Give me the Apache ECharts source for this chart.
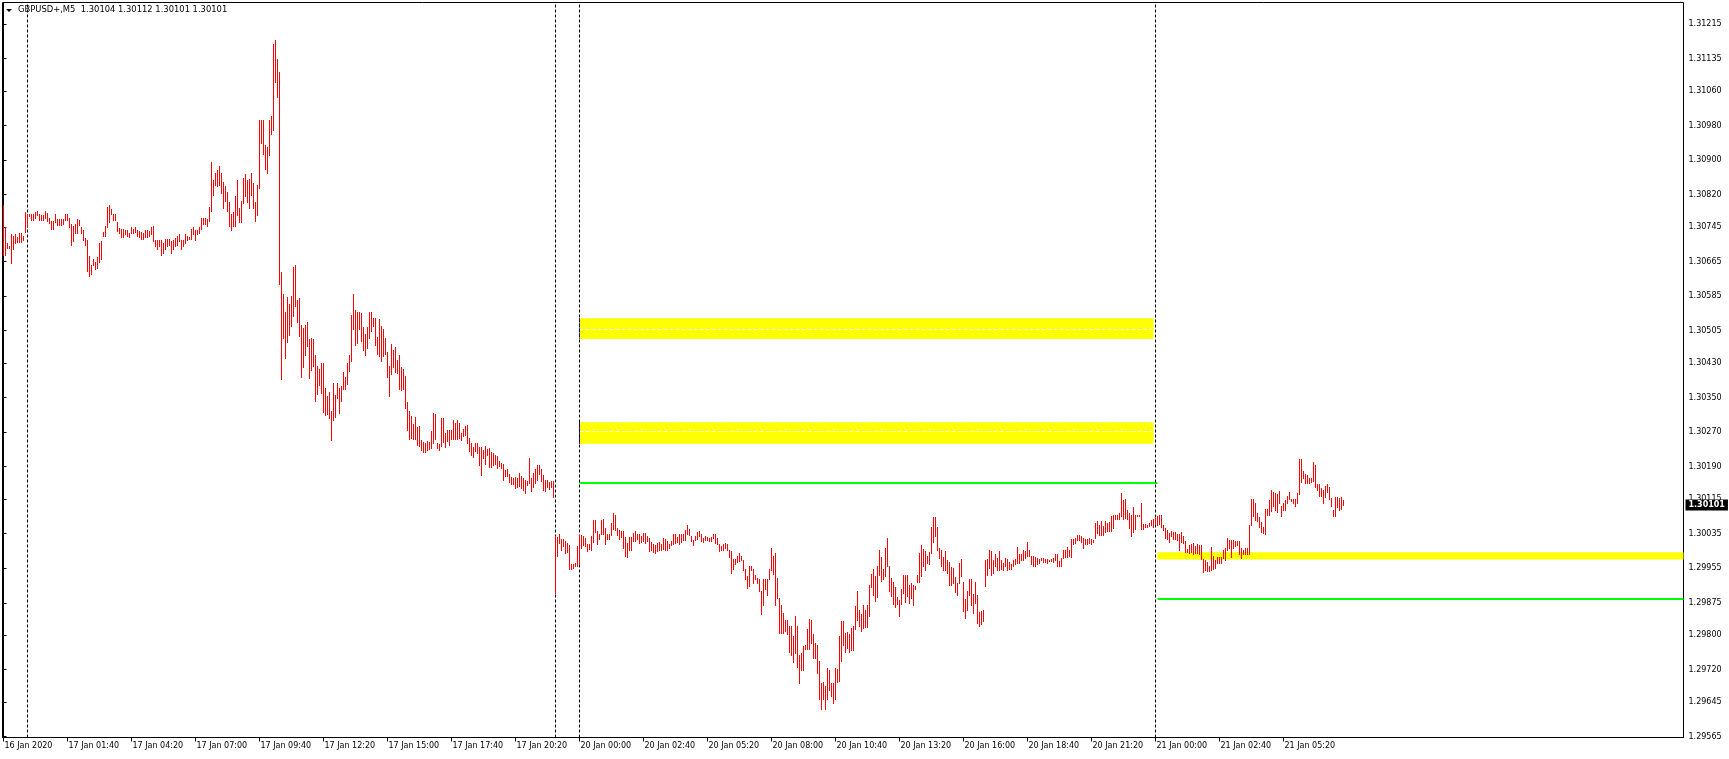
<!DOCTYPE html>
<html><head><meta charset="utf-8">
<script src="https://cdn.jsdelivr.net/npm/echarts@6/dist/echarts.min.js"></script>
<style>html,body{margin:0;padding:0;background:#fff;}#chart{width:1729px;height:759px;}</style>
</head><body><div id="chart"></div>
<script>
// ---------------- data ----------------
const symbolName = 'GBPUSD+,M5';
const lastOHLC = [1.30104, 1.30112, 1.30101, 1.30101];

const xTickBars = [0,32,64,96,128,160,192,224,256,288,320,352,384,416,448,480,512,544,576,608,640];
const xTickLabels = ['16 Jan 2020','17 Jan 01:40','17 Jan 04:20','17 Jan 07:00','17 Jan 09:40','17 Jan 12:20','17 Jan 15:00','17 Jan 17:40','17 Jan 20:20','20 Jan 00:00','20 Jan 02:40','20 Jan 05:20','20 Jan 08:00','20 Jan 10:40','20 Jan 13:20','20 Jan 16:00','20 Jan 18:40','20 Jan 21:20','21 Jan 00:00','21 Jan 02:40','21 Jan 05:20'];
const yTickValues = [1.29565,1.29645,1.29720,1.29800,1.29875,1.29955,1.30035,1.30115,1.30190,1.30270,1.30350,1.30430,1.30505,1.30585,1.30665,1.30745,1.30820,1.30900,1.30980,1.31060,1.31135,1.31215];
const separatorBars = [12, 276, 288, 576];

// rectangles (zones): [fromBar, toBar], top price, bottom price
const zoneBars = [[288, 575], [288, 575], [577, 840]];
const zoneTop = [1.30534, 1.30293, 1.29992];
const zoneBottom = [1.30486, 1.30243, 1.29975];
const zoneMidBars = [288, 574];
const zoneMid = [1.30508, 1.30272];
// green horizontal levels
const greenBars = [[288, 577], [577, 840]];
const greenLevels = [1.30153, 1.29884];

// 16-17 Jan (bars 0..275)
const highA = [1.30796,1.30743,1.30706,1.30701,1.30727,1.30724,1.30727,1.30721,1.30729,1.30729,
1.30724,1.30778,1.30773,1.30775,1.30773,1.30773,1.30778,1.30782,1.30773,1.30771,
1.30771,1.30782,1.30777,1.30765,1.30757,1.30757,1.30775,1.30763,1.30763,1.30763,
1.30763,1.30775,1.30773,1.30765,1.30752,1.30747,1.30752,1.30763,1.30760,1.30744,
1.30736,1.30718,1.30713,1.30676,1.30655,1.30670,1.30662,1.30675,1.30706,1.30711,
1.30732,1.30746,1.30791,1.30794,1.30786,1.30775,1.30775,1.30755,1.30742,1.30740,
1.30740,1.30738,1.30737,1.30730,1.30744,1.30740,1.30744,1.30738,1.30734,1.30732,
1.30729,1.30737,1.30737,1.30734,1.30744,1.30747,1.30713,1.30713,1.30713,1.30713,
1.30706,1.30717,1.30717,1.30717,1.30711,1.30713,1.30719,1.30724,1.30727,1.30713,
1.30713,1.30727,1.30724,1.30721,1.30740,1.30744,1.30738,1.30737,1.30744,1.30765,
1.30765,1.30765,1.30763,1.30791,1.30894,1.30852,1.30868,1.30876,1.30886,1.30868,
1.30848,1.30840,1.30824,1.30801,1.30775,1.30778,1.30815,1.30852,1.30789,1.30805,
1.30857,1.30866,1.30852,1.30854,1.30870,1.30845,1.30802,1.30842,1.30991,1.30991,
1.30991,1.30933,1.30930,1.30991,1.31002,1.31167,1.31178,1.31132,1.31102,1.30639,
1.30588,1.30546,1.30582,1.30565,1.30585,1.30651,1.30655,1.30576,1.30579,1.30516,
1.30510,1.30518,1.30523,1.30484,1.30488,1.30484,1.30447,1.30422,1.30416,1.30428,
1.30428,1.30371,1.30352,1.30362,1.30319,1.30382,1.30355,1.30382,1.30372,1.30375,
1.30408,1.30396,1.30429,1.30447,1.30541,1.30588,1.30551,1.30548,1.30548,1.30544,
1.30513,1.30497,1.30512,1.30546,1.30548,1.30533,1.30533,1.30489,1.30531,1.30514,
1.30507,1.30487,1.30454,1.30423,1.30474,1.30460,1.30466,1.30436,1.30447,1.30420,
1.30416,1.30400,1.30338,1.30317,1.30306,1.30287,1.30305,1.30281,1.30284,1.30251,
1.30246,1.30244,1.30248,1.30246,1.30271,1.30313,1.30312,1.30244,1.30241,1.30302,
1.30301,1.30266,1.30273,1.30273,1.30273,1.30298,1.30291,1.30296,1.30289,1.30268,
1.30277,1.30283,1.30285,1.30256,1.30244,1.30234,1.30244,1.30244,1.30234,1.30234,
1.30227,1.30236,1.30231,1.30233,1.30223,1.30221,1.30217,1.30213,1.30202,1.30198,
1.30196,1.30181,1.30184,1.30173,1.30165,1.30163,1.30165,1.30163,1.30175,1.30168,
1.30162,1.30159,1.30155,1.30208,1.30163,1.30174,1.30183,1.30194,1.30194,1.30183,
1.30170,1.30157,1.30159,1.30153,1.30156,1.30155];
const lowA = [1.30678,1.30678,1.30696,1.30696,1.30660,1.30692,1.30707,1.30709,1.30709,1.30709,
1.30713,1.30732,1.30744,1.30769,1.30761,1.30760,1.30765,1.30771,1.30761,1.30760,
1.30760,1.30765,1.30757,1.30754,1.30740,1.30740,1.30755,1.30748,1.30748,1.30748,
1.30750,1.30761,1.30760,1.30744,1.30703,1.30711,1.30730,1.30730,1.30749,1.30730,
1.30713,1.30703,1.30642,1.30630,1.30634,1.30657,1.30647,1.30649,1.30662,1.30669,
1.30723,1.30723,1.30744,1.30755,1.30773,1.30760,1.30760,1.30734,1.30730,1.30721,
1.30721,1.30727,1.30724,1.30721,1.30729,1.30730,1.30732,1.30724,1.30721,1.30717,
1.30717,1.30721,1.30721,1.30723,1.30727,1.30711,1.30700,1.30692,1.30700,1.30680,
1.30683,1.30692,1.30701,1.30703,1.30684,1.30692,1.30701,1.30703,1.30711,1.30692,
1.30701,1.30706,1.30713,1.30717,1.30717,1.30727,1.30713,1.30727,1.30730,1.30740,
1.30750,1.30752,1.30746,1.30757,1.30781,1.30817,1.30842,1.30840,1.30842,1.30823,
1.30788,1.30804,1.30781,1.30746,1.30738,1.30747,1.30747,1.30771,1.30755,1.30755,
1.30800,1.30815,1.30802,1.30789,1.30817,1.30789,1.30758,1.30771,1.30834,1.30939,
1.30914,1.30879,1.30868,1.30910,1.30960,1.30968,1.31079,1.31045,1.30613,1.30391,
1.30487,1.30440,1.30477,1.30493,1.30514,1.30539,1.30562,1.30524,1.30491,1.30396,
1.30420,1.30447,1.30468,1.30394,1.30413,1.30423,1.30341,1.30357,1.30379,1.30359,
1.30315,1.30308,1.30311,1.30301,1.30251,1.30297,1.30305,1.30347,1.30314,1.30341,
1.30369,1.30369,1.30381,1.30410,1.30433,1.30508,1.30471,1.30475,1.30508,1.30479,
1.30460,1.30447,1.30464,1.30487,1.30504,1.30514,1.30470,1.30449,1.30445,1.30433,
1.30445,1.30451,1.30397,1.30352,1.30404,1.30419,1.30408,1.30405,1.30368,1.30366,
1.30370,1.30325,1.30274,1.30254,1.30256,1.30252,1.30252,1.30239,1.30238,1.30227,
1.30223,1.30222,1.30227,1.30230,1.30233,1.30244,1.30254,1.30232,1.30227,1.30237,
1.30247,1.30234,1.30248,1.30239,1.30252,1.30252,1.30254,1.30252,1.30255,1.30250,
1.30260,1.30263,1.30244,1.30226,1.30216,1.30211,1.30226,1.30220,1.30193,1.30169,
1.30209,1.30196,1.30216,1.30188,1.30188,1.30193,1.30196,1.30187,1.30190,1.30186,
1.30159,1.30167,1.30167,1.30154,1.30149,1.30150,1.30139,1.30141,1.30144,1.30139,
1.30136,1.30128,1.30146,1.30151,1.30132,1.30142,1.30151,1.30159,1.30172,1.30156,
1.30136,1.30132,1.30142,1.30138,1.30142,1.30119];

// 19-20 Jan (bars 276..575)
const highB = [1.30028,1.30027,1.30032,1.30021,1.30021,1.30016,1.30013,1.30007,1.29963,1.29963,
1.29966,1.30005,1.30030,1.30030,1.30028,1.30024,1.30010,1.30010,1.30028,1.30065,
1.30065,1.30040,1.30032,1.30065,1.30067,1.30048,1.30034,1.30032,1.30058,1.30082,
1.30076,1.30048,1.30042,1.30039,1.30039,1.30027,1.30013,1.30026,1.30027,1.30036,
1.30041,1.30034,1.30033,1.30028,1.30036,1.30036,1.30028,1.30024,1.30014,1.30010,
1.30007,1.30013,1.30015,1.30009,1.30024,1.30022,1.30017,1.30011,1.30017,1.30032,
1.30034,1.30027,1.30034,1.30034,1.30032,1.30042,1.30053,1.30044,1.30028,1.30020,
1.30028,1.30037,1.30040,1.30032,1.30024,1.30028,1.30027,1.30024,1.30026,1.30034,
1.30034,1.30024,1.30011,1.30005,1.30009,1.30013,1.30009,1.29996,1.29993,1.29976,
1.29976,1.29982,1.29988,1.29982,1.29974,1.29951,1.29936,1.29960,1.29960,1.29951,
1.29939,1.29932,1.29929,1.29901,1.29929,1.29929,1.29929,1.29953,1.30001,1.29982,
1.29988,1.29932,1.29886,1.29868,1.29851,1.29835,1.29834,1.29819,1.29819,1.29797,
1.29843,1.29821,1.29754,1.29757,1.29773,1.29775,1.29814,1.29837,1.29835,1.29801,
1.29780,1.29775,1.29738,1.29689,1.29690,1.29681,1.29722,1.29718,1.29689,1.29687,
1.29723,1.29721,1.29798,1.29831,1.29831,1.29804,1.29806,1.29801,1.29816,1.29821,
1.29866,1.29902,1.29857,1.29847,1.29868,1.29857,1.29868,1.29915,1.29941,1.29951,
1.29936,1.29959,1.29996,1.29980,1.29951,1.30001,1.30024,1.29960,1.29932,1.29922,
1.29910,1.29887,1.29881,1.29905,1.29937,1.29937,1.29937,1.29916,1.29920,1.29916,
1.29912,1.29937,1.29988,1.30007,1.29999,1.29993,1.29983,1.29991,1.30049,1.30073,
1.30073,1.30050,1.30000,1.29996,1.29980,1.29993,1.29973,1.29968,1.29956,1.29955,
1.29934,1.29920,1.29966,1.29976,1.29922,1.29882,1.29901,1.29928,1.29929,1.29895,
1.29923,1.29891,1.29852,1.29855,1.29858,1.29974,1.29976,1.29995,1.29993,1.29974,
1.29986,1.29978,1.29993,1.29974,1.29965,1.29978,1.29976,1.29968,1.29964,1.29974,
1.29976,1.30004,1.29986,1.29986,1.29996,1.29993,1.30014,1.29997,1.29983,1.29983,
1.29980,1.29978,1.29976,1.29977,1.29978,1.29976,1.29976,1.29974,1.29976,1.29978,
1.29986,1.29986,1.29970,1.29978,1.29997,1.29997,1.30004,1.29997,1.30022,1.30022,
1.30024,1.30030,1.30030,1.30028,1.30024,1.30022,1.30022,1.30024,1.30022,1.30020,
1.30058,1.30063,1.30053,1.30063,1.30051,1.30063,1.30059,1.30061,1.30075,1.30078,
1.30078,1.30078,1.30081,1.30127,1.30112,1.30114,1.30088,1.30081,1.30076,1.30096,
1.30078,1.30078,1.30078,1.30105,1.30057,1.30057,1.30055,1.30059,1.30065,1.30068];
const lowB = [1.29897,1.29983,1.30013,1.29996,1.30005,1.29988,1.29991,1.29953,1.29953,1.29955,
1.29959,1.29959,1.29963,1.30000,1.30008,1.30005,1.29993,1.29999,1.29997,1.30015,
1.30038,1.30011,1.30021,1.30032,1.30034,1.30011,1.30022,1.30021,1.30030,1.30044,
1.30042,1.30030,1.30021,1.30027,1.30001,1.29982,1.29980,1.29995,1.29995,1.30018,
1.30018,1.30021,1.30013,1.30014,1.30017,1.30013,1.30017,1.29994,1.29996,1.29991,
1.29990,1.29994,1.29995,1.29997,1.29999,1.29996,1.29996,1.30001,1.30007,1.30009,
1.30013,1.30014,1.30009,1.30014,1.30019,1.30020,1.30032,1.30030,1.30016,1.30007,
1.30019,1.30022,1.30028,1.30016,1.30014,1.30019,1.30019,1.30016,1.30018,1.30024,
1.30013,1.30011,1.29993,1.29996,1.29997,1.30001,1.29996,1.29980,1.29943,1.29953,
1.29963,1.29968,1.29970,1.29974,1.29949,1.29928,1.29909,1.29912,1.29949,1.29919,
1.29928,1.29920,1.29901,1.29847,1.29868,1.29906,1.29892,1.29928,1.29949,1.29941,
1.29868,1.29886,1.29804,1.29804,1.29804,1.29808,1.29801,1.29760,1.29754,1.29736,
1.29758,1.29726,1.29689,1.29718,1.29718,1.29766,1.29766,1.29766,1.29781,1.29746,
1.29746,1.29712,1.29650,1.29627,1.29652,1.29627,1.29650,1.29672,1.29658,1.29642,
1.29652,1.29690,1.29692,1.29739,1.29777,1.29760,1.29770,1.29760,1.29764,1.29764,
1.29814,1.29835,1.29820,1.29808,1.29816,1.29818,1.29818,1.29843,1.29910,1.29891,
1.29878,1.29888,1.29937,1.29924,1.29929,1.29936,1.29959,1.29901,1.29889,1.29872,
1.29865,1.29870,1.29843,1.29870,1.29897,1.29875,1.29889,1.29874,1.29885,1.29868,
1.29905,1.29922,1.29922,1.29936,1.29959,1.29949,1.29965,1.29963,1.29990,1.30014,
1.30028,1.29997,1.29978,1.29959,1.29949,1.29949,1.29943,1.29916,1.29916,1.29919,
1.29899,1.29891,1.29919,1.29936,1.29855,1.29839,1.29858,1.29891,1.29868,1.29851,
1.29874,1.29828,1.29820,1.29824,1.29831,1.29912,1.29937,1.29955,1.29937,1.29942,
1.29959,1.29949,1.29949,1.29953,1.29949,1.29959,1.29949,1.29951,1.29951,1.29960,
1.29963,1.29966,1.29966,1.29973,1.29974,1.29978,1.29983,1.29983,1.29964,1.29959,
1.29959,1.29963,1.29966,1.29972,1.29968,1.29968,1.29965,1.29970,1.29971,1.29968,
1.29973,1.29960,1.29959,1.29959,1.29978,1.29980,1.29980,1.29983,1.29980,1.30009,
1.30013,1.30019,1.30019,1.30014,1.30001,1.30011,1.30009,1.30013,1.30009,1.30014,
1.30024,1.30036,1.30030,1.30030,1.30030,1.30037,1.30040,1.30040,1.30041,1.30048,
1.30067,1.30067,1.30068,1.30075,1.30067,1.30070,1.30068,1.30048,1.30028,1.30037,
1.30045,1.30074,1.30074,1.30045,1.30045,1.30050,1.30050,1.30051,1.30053,1.30050];

// 21 Jan (bars 576..670)
const highC = [1.30071,1.30074,1.30078,1.30076,1.30055,1.30047,1.30042,1.30036,1.30040,1.30037,
1.30037,1.30032,1.30032,1.30037,1.30028,1.30017,1.29999,1.30007,1.30009,1.30013,
1.30005,1.30011,1.30007,1.30007,1.29976,1.29973,1.29968,1.29960,1.30003,1.29982,
1.29974,1.29980,1.29980,1.29980,1.29996,1.30001,1.30024,1.30020,1.30020,1.30019,
1.30017,1.30017,1.30017,1.30001,1.29997,1.30001,1.30001,1.30053,1.30113,1.30115,
1.30105,1.30081,1.30073,1.30061,1.30050,1.30090,1.30090,1.30111,1.30135,1.30130,
1.30128,1.30125,1.30132,1.30099,1.30105,1.30111,1.30122,1.30130,1.30115,1.30113,
1.30115,1.30128,1.30207,1.30207,1.30179,1.30171,1.30169,1.30163,1.30163,1.30199,
1.30192,1.30148,1.30148,1.30140,1.30136,1.30145,1.30148,1.30142,1.30117,1.30088,
1.30119,1.30119,1.30117,1.30119,1.30112];
const lowC = [1.30057,1.30055,1.30057,1.30050,1.30042,1.30024,1.30022,1.30014,1.30028,1.30022,
1.30022,1.30019,1.29997,1.30014,1.30013,1.29992,1.29991,1.29988,1.29991,1.29986,
1.29988,1.29988,1.29986,1.29976,1.29945,1.29949,1.29947,1.29947,1.29949,1.29951,
1.29955,1.29965,1.29965,1.29965,1.29978,1.29974,1.29997,1.30001,1.29980,1.30001,
1.30005,1.30007,1.29986,1.29978,1.29986,1.29986,1.29986,1.29986,1.30055,1.30074,
1.30065,1.30063,1.30050,1.30037,1.30036,1.30034,1.30076,1.30076,1.30086,1.30099,
1.30088,1.30084,1.30104,1.30074,1.30088,1.30088,1.30105,1.30113,1.30109,1.30104,
1.30099,1.30104,1.30125,1.30153,1.30163,1.30152,1.30152,1.30152,1.30153,1.30155,
1.30142,1.30135,1.30122,1.30121,1.30105,1.30119,1.30130,1.30113,1.30098,1.30074,
1.30074,1.30096,1.30088,1.30090,1.30101];

// ---------------- chart ----------------
const high = highA.concat(highB, highC);
const low = lowA.concat(lowB, lowC);
const barData = high.map((h, i) => [i, h, low[i]]);
const lastIndex = barData.length - 1;

const FONT = 'DejaVu Sans';
const chart = echarts.init(document.getElementById('chart'), null, {renderer: 'canvas'});

const zoneAreas = zoneTop.map((t, k) => [
  {xAxis: zoneBars[k][0], yAxis: t},
  {xAxis: zoneBars[k][1], yAxis: zoneBottom[k]}
]);
const midLines = zoneMid.map(v => [
  {xAxis: zoneMidBars[0], yAxis: v, lineStyle: {color: '#ffffff', width: 1, type: [4, 2]}},
  {xAxis: zoneMidBars[1], yAxis: v}
]);
const greenLines = greenLevels.map((v, k) => [
  {xAxis: greenBars[k][0], yAxis: v, lineStyle: {color: '#00ff00', width: 2, type: 'solid'}},
  {xAxis: greenBars[k][1], yAxis: v}
]);
const sepLines = separatorBars.map(b => ({xAxis: b}));
const xorLines = [0, 1].map(k => [
  {xAxis: zoneBars[k][0], yAxis: zoneTop[k], lineStyle: {color: '#0000ff', width: 1, type: [3, 2]}},
  {xAxis: zoneBars[k][0], yAxis: zoneBottom[k]}
]);

const option = {
  animation: false,
  backgroundColor: '#ffffff',
  title: {
    text: symbolName + '  ' + lastOHLC.map(v => v.toFixed(5)).join(' '),
    left: 18, top: 6, padding: 0,
    textStyle: {fontFamily: FONT, fontSize: 8.4, fontWeight: 'normal', color: '#000'}
  },
  graphic: [{type: 'polygon', shape: {points: [[6, 9], [12, 9], [9, 12]]}, style: {fill: '#000'}}],
  grid: {left: 2.5, right: 45.5, top: 2.5, bottom: 21.5, show: true, borderColor: '#000', borderWidth: 1, backgroundColor: '#fff'},
  xAxis: {
    type: 'value', min: -0.5, max: 840,
    axisLine: {show: true, lineStyle: {color: '#000', width: 1}},
    splitLine: {show: false},
    axisTick: {show: true, customValues: xTickBars, length: 4, lineStyle: {color: '#000'}},
    axisLabel: {
      customValues: xTickBars,
      formatter: v => xTickLabels[xTickBars.indexOf(Math.round(v))],
      align: 'left', margin: 4, padding: [0, 0, 0, 1],
      fontFamily: FONT, fontSize: 8, color: '#000'
    }
  },
  yAxis: {
    type: 'value', position: 'right', min: 1.29563, max: 1.31265,
    axisLine: {show: true, lineStyle: {color: '#000', width: 1}},
    splitLine: {show: false},
    axisTick: {show: true, customValues: yTickValues, length: 3, lineStyle: {color: '#000'}},
    axisLabel: {
      customValues: yTickValues,
      formatter: v => v.toFixed(5),
      margin: 5, fontFamily: FONT, fontSize: 8, color: '#000'
    }
  },
  series: [
    {
      type: 'line', data: [], z: 1, silent: true,
      markArea: {silent: true, itemStyle: {color: '#ffff00'}, label: {show: false}, data: zoneAreas},
      markLine: {silent: true, symbol: ['none', 'none'], label: {show: false}, data: midLines.concat(greenLines)}
    },
    {
      type: 'custom', z: 5, silent: true, clip: false,
      data: barData, encode: {x: 0, y: [1, 2]},
      renderItem: function (params, api) {
        const i = api.value(0);
        const pHi = api.coord([i, api.value(1)]);
        const pLo = api.coord([i, api.value(2)]);
        const x = Math.floor(pHi[0]);
        const y1 = Math.floor(pHi[1]);
        const y2 = Math.max(y1 + 1, Math.ceil(pLo[1]));
        const bar = {type: 'rect', shape: {x: x, y: y1, width: 1, height: y2 - y1}, style: {fill: '#ff0000'}};
        if (params.dataIndex !== lastIndex) return bar;
        const cs = params.coordSys;
        const py = api.coord([i, lastOHLC[3]])[1];
        return {
          type: 'group',
          children: [
            bar,
            {
              type: 'text', x: cs.x + cs.width + 2, y: Math.round(py),
              style: {
                text: lastOHLC[3].toFixed(5), fill: '#ffffff', backgroundColor: '#000000',
                padding: [1, 3, 1, 3], fontFamily: FONT, fontSize: 8, fontWeight: 'bold',
                lineHeight: 9, align: 'left', verticalAlign: 'middle'
              }
            }
          ]
        };
      }
    },
    {
      type: 'line', data: [], z: 3, silent: true,
      markLine: {
        silent: true, symbol: ['none', 'none'], label: {show: false},
        lineStyle: {color: '#000', width: 1, type: [3, 2]},
        data: sepLines.concat(xorLines)
      }
    }
  ]
};
chart.setOption(option);
</script>
</body></html>
